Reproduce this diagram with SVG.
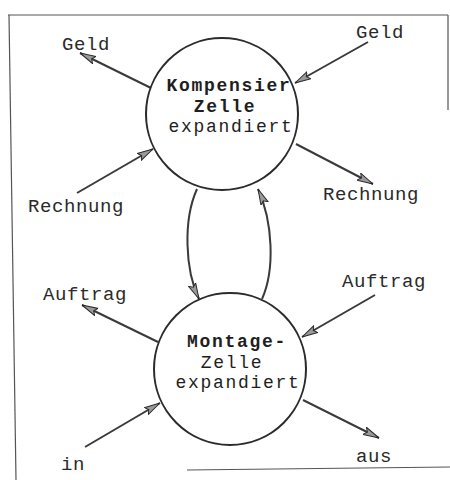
<svg xmlns="http://www.w3.org/2000/svg" width="450" height="480" viewBox="0 0 450 480">
  <defs>
    <style>
      .frame { fill: none; stroke: #555; stroke-width: 1.2; }
      .cell { fill: #fff; stroke: #2b2b2b; stroke-width: 2; }
      .flow { fill: none; stroke: #3a3a3a; stroke-width: 2; marker-end: url(#head); }
      .name { font-family: "Liberation Mono", "DejaVu Sans Mono", monospace; font-size: 18px; letter-spacing: 1.7px; fill: #1e1e1e; text-anchor: middle; }
      .bold { font-weight: bold; }
      .lbl { font-family: "Liberation Mono", "DejaVu Sans Mono", monospace; font-size: 19px; letter-spacing: 0.6px; fill: #2a2a2a; }
    </style>
    <marker id="head" viewBox="0 0 16 10" refX="16" refY="5" markerWidth="16" markerHeight="10" markerUnits="userSpaceOnUse" orient="auto">
      <path d="M0,1 L16,5 L0,9 L3,5 Z" fill="#9a9a9a" stroke="#2a2a2a" stroke-width="1"/>
    </marker>
  </defs>

  <rect width="450" height="480" fill="#fff"/>

  <!-- page border -->
  <g id="border" class="frame">
    <path d="M8,15 L448,15"/>
    <path d="M9,15 L16,480"/>
    <path d="M448,15 L448,110"/>
    <path d="M187,470 L450,467"/>
  </g>

  <!-- connectors -->
  <g id="connectors">
    <path class="flow" d="M151,88 L80,53"/>
    <path class="flow" d="M368,42 L295,83"/>
    <path class="flow" d="M77,193 L153,149"/>
    <path class="flow" d="M296,144 L373,184"/>
    <path class="flow" d="M197,189 C183,220 185,270 199,299"/>
    <path class="flow" d="M262,299 C275,270 273,222 258,189"/>
    <path class="flow" d="M158,342 L82,305"/>
    <path class="flow" d="M375,295 L302,337"/>
    <path class="flow" d="M85,447 L160,403"/>
    <path class="flow" d="M303,400 L379,438"/>
  </g>

  <g id="kompensier-zelle">
    <circle class="cell" cx="222" cy="114" r="76"/>
    <text class="name bold" x="229" y="91">Kompensier</text>
    <text class="name bold" x="225" y="111.5">Zelle</text>
    <text class="name" x="231" y="132">expandiert</text>
  </g>

  <g id="montage-zelle">
    <circle class="cell" cx="230" cy="369" r="76"/>
    <text class="name bold" x="237" y="347">Montage-</text>
    <text class="name" x="232" y="367.5">Zelle</text>
    <text class="name" x="238" y="388">expandiert</text>
  </g>

  <g id="labels">
    <text class="lbl" x="62" y="50">Geld</text>
    <text class="lbl" x="356" y="38">Geld</text>
    <text class="lbl" x="28" y="212">Rechnung</text>
    <text class="lbl" x="323" y="200">Rechnung</text>
    <text class="lbl" x="43" y="300">Auftrag</text>
    <text class="lbl" x="342" y="287">Auftrag</text>
    <text class="lbl" x="61" y="470">in</text>
    <text class="lbl" x="356" y="462">aus</text>
  </g>
</svg>
